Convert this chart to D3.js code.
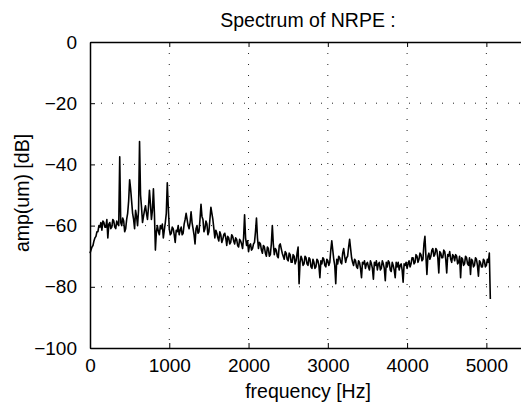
<!DOCTYPE html>
<html lang="en">
<head>
    <meta charset="UTF-8">
    <title>Spectrum of NRPE</title>
    <script src="https://cdnjs.cloudflare.com/ajax/libs/d3/7.8.5/d3.js"></script>
    <style>
        html, body { margin: 0; padding: 0; background: #fff; }
        svg { display: block; font-family: "Liberation Sans", Arial, Helvetica, sans-serif; }
        .grid line { stroke: #222; stroke-width: 1; stroke-dasharray: 1 10; }
    </style>
</head>
<body>
<svg width="521" height="407"></svg>

<script>
    // spectrum sampled every 12.5 Hz, values in dB (one row = 100 Hz)
    const freqStep = 12.5;
    const amplitude = [
        -69, -68, -67, -66.5, -65, -64, -63.5, -62,
        -62, -60, -60.5, -59, -61.5, -58.5, -59, -60.5,
        -60.5, -58, -64, -59.5, -59, -61, -60.5, -58,
        -58.5, -60.5, -61, -58.5, -59.5, -60, -37.5, -59,
        -60, -57.5, -58.5, -62, -61, -58, -56, -52,
        -45, -48, -52, -56, -58, -61, -55, -57,
        -60, -55, -32.5, -50, -54, -59, -57, -55,
        -53.5, -56, -58, -54, -48.5, -53, -58, -55,
        -48, -56, -68, -62, -60, -62, -63, -60,
        -61, -59.5, -64, -61.5, -59, -56, -46, -54,
        -61, -63, -62.5, -60.5, -61, -63, -65.5, -61.5,
        -62, -60, -63, -61.5, -60.5, -63, -62.5, -59.5,
        -58, -56, -58, -60, -61, -59, -55.5, -59,
        -61, -63, -66, -61, -60, -62.5, -62, -58,
        -53, -57, -58, -62, -61, -58.5, -59.5, -63,
        -62, -58, -54, -56, -58, -61, -64, -61.5,
        -62.5, -64, -65, -62, -63, -65.5, -64.5, -63,
        -62.5, -64, -66.5, -63.5, -64, -66, -65.5, -63,
        -63.5, -65, -66, -64, -64.5, -66.5, -67, -64.5,
        -65, -66, -67.5, -64, -56.5, -64, -66.5, -65,
        -68.5, -66.5, -66, -68, -67.5, -66, -65.5, -62,
        -57.5, -64, -67.5, -65.5, -66, -68, -69, -66.5,
        -67, -69, -70, -67, -67.5, -70, -69.5, -66,
        -60, -66, -69.5, -67.5, -68, -70, -70.5, -66.5,
        -66, -67.5, -69, -70, -71, -68.5, -69, -71,
        -71.5, -69, -69.5, -72, -72, -69.5, -70, -72.5,
        -71.5, -69, -67, -79, -72, -70, -71, -73,
        -72.5, -70, -70.5, -72.5, -73, -70.5, -71, -73.5,
        -74, -71, -72, -74, -73.5, -71, -71.5, -73,
        -77, -71.5, -72.5, -70.5, -71, -73, -73.5, -71,
        -71.5, -73, -72, -68, -65, -68, -71, -73,
        -79, -71, -72.5, -70, -70.5, -72, -72.5, -69,
        -67.5, -70, -72, -70.5, -70, -67, -64.5, -67.5,
        -70.5, -72, -73, -71, -71.5, -73.5, -74, -71.5,
        -72, -74, -77, -72, -72.5, -71.5, -74, -72.5,
        -72, -73.5, -74.5, -71.5, -72.5, -74, -77.5, -72,
        -73, -71.5, -74.5, -72.5, -72, -74.5, -74, -71.5,
        -72.5, -74, -78, -72, -73.5, -71.5, -72, -74.5,
        -75, -72, -73, -74.5, -77, -72, -73.5, -72,
        -74.5, -73, -72.5, -74.5, -78.5, -72.5, -73, -72,
        -74, -72.5, -71.5, -73.5, -72.5, -70.5, -70.5, -72.5,
        -72, -69.5, -70, -72, -71, -69, -69.5, -71.5,
        -71, -66, -63.5, -70, -76, -70, -69, -71,
        -70, -68, -67.5, -70, -69.5, -67.5, -68, -70.5,
        -75.5, -68.5, -69, -70.5, -70.5, -68, -68.5, -71,
        -75.5, -69.5, -70, -68.5, -71, -72, -69.5, -70,
        -71.5, -69.5, -70, -72.5, -72, -70, -77, -70.5,
        -71, -73, -72.5, -70, -70.5, -72.5, -73, -70.5,
        -76, -71, -71.5, -73.5, -73, -70.5, -71, -73,
        -76.5, -71.5, -72, -73.5, -73.5, -71, -71.5, -73.5,
        -73, -71, -72, -69, -84
    ];

    const xTicks = [0, 1000, 2000, 3000, 4000, 5000];
    const yTicks = [0, -20, -40, -60, -80, -100];
    const titleText = "Spectrum of NRPE :";
    const xLabel = "frequency [Hz]";
    const yLabel = "amp(um) [dB]";

    const svg = d3.select("svg");
    const plotL = 90, plotT = 42, plotR = 526, plotB = 348;

    const x = d3.scaleLinear().domain([0, 5500]).range([plotL, plotR]);
    const y = d3.scaleLinear().domain([-100, 0]).range([plotB, plotT]);
    const fmt = d => d < 0 ? "\u2212" + Math.abs(d) : String(d);

    // dotted grid
    const grid = svg.append("g").attr("class", "grid");
    grid.selectAll(".gx").data(xTicks.slice(1))
        .enter().append("line")
        .attr("x1", d => x(d)).attr("x2", d => x(d))
        .attr("y1", plotT).attr("y2", plotB);
    grid.selectAll(".gy").data(yTicks.slice(1, -1))
        .enter().append("line")
        .attr("x1", plotL).attr("x2", plotR)
        .attr("y1", d => y(d)).attr("y2", d => y(d));

    // spectrum line
    const line = d3.line()
        .x((d, i) => x(i * freqStep))
        .y(d => y(d));
    svg.append("path")
        .datum(amplitude)
        .attr("d", line)
        .attr("fill", "none")
        .attr("stroke", "#000")
        .attr("stroke-width", 1.6)
        .attr("stroke-linejoin", "round");

    // axes with inward ticks (box style)
    const axisStyle = g => {
        g.selectAll(".domain").attr("stroke-width", 1.5);
        g.selectAll(".tick line").attr("stroke-width", 1);
        g.selectAll("text").attr("font-size", 19).attr("fill", "#000");
    };

    svg.append("g")
        .attr("transform", `translate(0,${plotB})`)
        .call(d3.axisBottom(x).tickValues(xTicks).tickFormat(fmt).tickSizeInner(-5).tickSizeOuter(0).tickPadding(11))
        .call(axisStyle)
        .call(g => g.selectAll("text").attr("dy", "0.71em"));

    svg.append("g")
        .attr("transform", `translate(0,${plotT})`)
        .call(d3.axisTop(x).tickValues(xTicks).tickFormat("").tickSizeInner(-5).tickSizeOuter(0))
        .call(axisStyle);

    svg.append("g")
        .attr("transform", `translate(${plotL},0)`)
        .call(d3.axisLeft(y).tickValues(yTicks).tickFormat(fmt).tickSizeInner(-5).tickSizeOuter(0).tickPadding(13))
        .call(axisStyle);

    svg.append("text")
        .attr("x", (plotL + plotR) / 2)
        .attr("y", 27)
        .attr("text-anchor", "middle")
        .attr("font-size", 19.5)
        .text(titleText);

    svg.append("text")
        .attr("x", (plotL + plotR) / 2)
        .attr("y", 398)
        .attr("text-anchor", "middle")
        .attr("font-size", 19.5)
        .text(xLabel);

    svg.append("text")
        .attr("transform", `translate(29,${(plotT + plotB) / 2 - 2}) rotate(-90)`)
        .attr("text-anchor", "middle")
        .attr("font-size", 19.5)
        .text(yLabel);
</script>
</body>
</html>
